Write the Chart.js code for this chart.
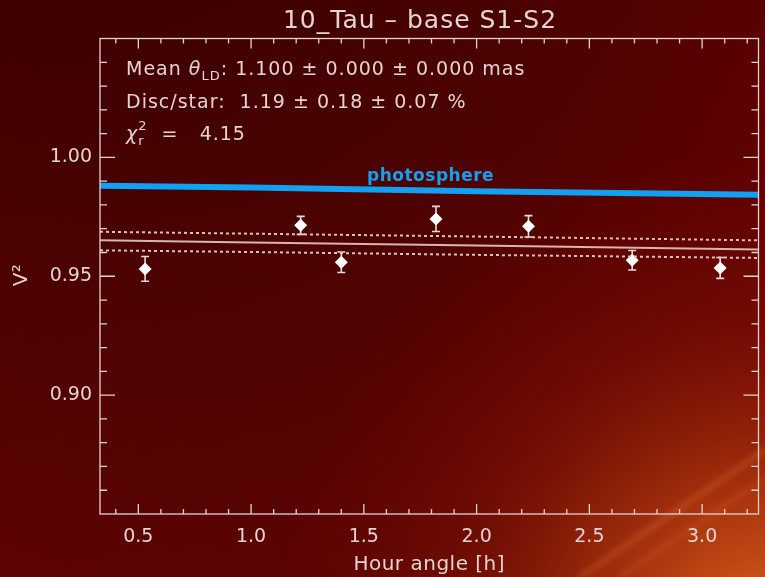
<!DOCTYPE html>
<html>
<head>
<meta charset="utf-8">
<script src="https://cdn.jsdelivr.net/npm/chart.js@4/dist/chart.umd.min.js"></script>
<style>
  html, body { margin: 0; padding: 0; background: #4a0000; }
  canvas { display: block; }
</style>
</head>
<body>
<canvas id="vis2Chart" width="765" height="577"></canvas>
<script>
// observed squared visibilities, baseline S1-S2
const hourAngle = [0.53, 1.22, 1.40, 1.82, 2.23, 2.69, 3.08];
const vis2 = [0.9531, 0.9714, 0.9559, 0.9741, 0.9710, 0.9567, 0.9535];
const vis2Err = [0.0052, 0.0038, 0.0043, 0.0053, 0.0045, 0.0041, 0.0044];

// model curves sampled along the hour angle range
const modelHA = [0.33, 1.0, 2.0, 3.25];
const photosphere = [0.9881, 0.9873, 0.9858, 0.9843];
const modelFit = [0.9651, 0.9642, 0.9629, 0.9612];
const modelUpper = [0.9687, 0.9679, 0.9667, 0.9651];
const modelLower = [0.9609, 0.9602, 0.9590, 0.9577];

// axis ticks
const xMajor = [0.5, 1.0, 1.5, 2.0, 2.5, 3.0];
const xTickLabels = ["0.5", "1.0", "1.5", "2.0", "2.5", "3.0"];
const yMajor = [0.90, 0.95, 1.00];
const yTickLabels = ["0.90", "0.95", "1.00"];

const fg = "#e6d2d2";
const blue = "#12a0f2";
const font = "'DejaVu Sans', sans-serif";

function pts(xs, ys) {
    return xs.map((x, i) => ({ x: x, y: ys[i] }));
}

// dark red backdrop with the orange glow in the lower right
const backdrop = {
    id: "backdrop",
    beforeDraw(chart) {
        const ctx = chart.ctx;
        const w = chart.width, h = chart.height;
        ctx.save();
        let g = ctx.createLinearGradient(0, 0, w * 0.3, h);
        g.addColorStop(0, "#3e0000");
        g.addColorStop(1, "#620404");
        ctx.fillStyle = g;
        ctx.fillRect(0, 0, w, h);

        g = ctx.createLinearGradient(0, 0, w, 0);
        g.addColorStop(0, "rgba(0,0,0,0)");
        g.addColorStop(1, "rgba(110,0,0,0.35)");
        ctx.fillStyle = g;
        ctx.fillRect(0, 0, w, h);

        g = ctx.createRadialGradient(770, 650, 0, 770, 650, 500);
        g.addColorStop(0, "rgba(235,115,35,0.95)");
        g.addColorStop(0.3, "rgba(200,75,18,0.7)");
        g.addColorStop(0.65, "rgba(150,30,5,0.3)");
        g.addColorStop(1, "rgba(120,10,0,0)");
        ctx.fillStyle = g;
        ctx.fillRect(0, 0, w, h);

        ctx.filter = "blur(3px)";
        ctx.strokeStyle = "rgba(245,140,70,0.35)";
        ctx.lineWidth = 4;
        ctx.beginPath();
        ctx.moveTo(580, 577);
        ctx.lineTo(765, 450);
        ctx.stroke();
        ctx.strokeStyle = "rgba(245,140,70,0.2)";
        ctx.beginPath();
        ctx.moveTo(620, 577);
        ctx.lineTo(765, 478);
        ctx.stroke();
        ctx.restore();
    }
};

// box frame with inward ticks on all four sides
const frame = {
    id: "frame",
    afterDatasetsDraw(chart) {
        const ctx = chart.ctx;
        const a = chart.chartArea;
        const xs = chart.scales.x, ys = chart.scales.y;
        ctx.save();
        ctx.strokeStyle = fg;
        ctx.lineWidth = 1.3;
        ctx.strokeRect(a.left, a.top, a.right - a.left, a.bottom - a.top);
        ctx.beginPath();
        for (let i = 4; i <= 32; i++) {
            const v = i / 10;
            const px = xs.getPixelForValue(v);
            if (px < a.left + 1 || px > a.right - 1) continue;
            const len = (i % 5 === 0) ? 10 : 5;
            ctx.moveTo(px, a.bottom); ctx.lineTo(px, a.bottom - len);
            ctx.moveTo(px, a.top); ctx.lineTo(px, a.top + len);
        }
        for (let i = 86; i <= 104; i++) {
            const v = i / 100;
            const py = ys.getPixelForValue(v);
            const len = (i % 5 === 0) ? 15 : 7;
            ctx.moveTo(a.left, py); ctx.lineTo(a.left + len, py);
            ctx.moveTo(a.right, py); ctx.lineTo(a.right - len, py);
        }
        ctx.stroke();
        ctx.restore();
    }
};

// vertical error bars with caps
const errorBars = {
    id: "errorBars",
    beforeDatasetsDraw(chart) {
        const ctx = chart.ctx;
        const xs = chart.scales.x, ys = chart.scales.y;
        ctx.save();
        ctx.strokeStyle = "#ecdada";
        ctx.lineWidth = 1.6;
        ctx.beginPath();
        hourAngle.forEach((h, i) => {
            const px = xs.getPixelForValue(h);
            const top = ys.getPixelForValue(vis2[i] + vis2Err[i]);
            const bot = ys.getPixelForValue(vis2[i] - vis2Err[i]);
            ctx.moveTo(px, top); ctx.lineTo(px, bot);
            ctx.moveTo(px - 4, top); ctx.lineTo(px + 4, top);
            ctx.moveTo(px - 4, bot); ctx.lineTo(px + 4, bot);
        });
        ctx.stroke();
        ctx.restore();
    }
};

function drawParts(ctx, x, y, parts) {
    let cx = x;
    parts.forEach(p => {
        ctx.font = (p.italic ? "italic " : "") + p.size + "px " + font;
        ctx.fillText(p.t, cx, y + (p.dy || 0));
        const w = ctx.measureText(p.t).width;
        if (!p.stack) cx += w;
    });
    return cx;
}

// title, fit summary, curve label and axis titles
const labels = {
    id: "labels",
    afterDraw(chart) {
        const ctx = chart.ctx;
        const a = chart.chartArea;
        ctx.save();
        ctx.fillStyle = fg;
        ctx.textBaseline = "alphabetic";

        ctx.letterSpacing = "1px";
        ctx.font = "25px " + font;
        ctx.textAlign = "center";
        ctx.fillText("10_Tau \u2013 base S1-S2", 420, 28);

        ctx.letterSpacing = "0.5px";
        ctx.font = "20px " + font;
        ctx.fillText("Hour angle [h]", (a.left + a.right) / 2, 570);

        ctx.save();
        ctx.translate(27, 275);
        ctx.rotate(-Math.PI / 2);
        ctx.font = "20px " + font;
        ctx.fillText("V\u00b2", 0, 0);
        ctx.restore();

        ctx.textAlign = "left";
        ctx.letterSpacing = "1px";
        drawParts(ctx, 126, 75, [
            { t: "Mean ", size: 19 },
            { t: "\u03b8", size: 19, italic: true },
            { t: "LD", size: 13, dy: 5 },
            { t: ": 1.100 \u00b1 0.000 \u00b1 0.000 mas", size: 19 }
        ]);
        drawParts(ctx, 126, 108, [
            { t: "Disc/star:  1.19 \u00b1 0.18 \u00b1 0.07 %", size: 19 }
        ]);
        drawParts(ctx, 126, 140, [
            { t: "\u03c7", size: 19, italic: true },
            { t: "r", size: 13, dy: 5, stack: true },
            { t: "2", size: 13, dy: -10 },
            { t: "  =   4.15", size: 19 }
        ]);

        ctx.letterSpacing = "0.5px";
        ctx.fillStyle = blue;
        ctx.font = "bold 17px " + font;
        ctx.fillText("photosphere", 367, 181);
        ctx.restore();
    }
};

new Chart(document.getElementById("vis2Chart"), {
    type: "scatter",
    data: {
        datasets: [
            {
                type: "line",
                data: pts(modelHA, photosphere),
                borderColor: blue,
                borderWidth: 6,
                pointRadius: 0
            },
            {
                type: "line",
                data: pts(modelHA, modelUpper),
                borderColor: "#dcc0c0",
                borderWidth: 2,
                borderDash: [3, 3],
                pointRadius: 0
            },
            {
                type: "line",
                data: pts(modelHA, modelFit),
                borderColor: "#d8b4b4",
                borderWidth: 2,
                pointRadius: 0
            },
            {
                type: "line",
                data: pts(modelHA, modelLower),
                borderColor: "#dcc0c0",
                borderWidth: 2,
                borderDash: [3, 3],
                pointRadius: 0
            },
            {
                data: pts(hourAngle, vis2),
                pointStyle: "rectRot",
                pointRadius: 6.5,
                backgroundColor: "#ffffff",
                borderColor: "#ffffff",
                borderWidth: 0
            }
        ]
    },
    options: {
        responsive: false,
        animation: false,
        events: [],
        layout: { padding: { top: 38.5, right: 2, left: 0, bottom: 0 } },
        plugins: {
            legend: { display: false },
            tooltip: { enabled: false }
        },
        scales: {
            x: {
                type: "linear",
                min: 0.33,
                max: 3.25,
                afterFit: s => { s.height = 63; },
                afterBuildTicks: s => { s.ticks = xMajor.map(v => ({ value: v })); },
                border: { display: false },
                grid: { display: false, drawTicks: false },
                ticks: {
                    color: fg,
                    padding: 12,
                    maxRotation: 0,
                    font: { family: "DejaVu Sans", size: 19 },
                    callback: (v, i) => xTickLabels[i]
                }
            },
            y: {
                type: "linear",
                min: 0.85,
                max: 1.05,
                afterFit: s => { s.width = 100; },
                afterBuildTicks: s => { s.ticks = yMajor.map(v => ({ value: v })); },
                border: { display: false },
                grid: { display: false, drawTicks: false },
                ticks: {
                    color: fg,
                    padding: 8,
                    font: { family: "DejaVu Sans", size: 19 },
                    callback: (v, i) => yTickLabels[i]
                }
            }
        }
    },
    plugins: [backdrop, frame, errorBars, labels]
});
</script>
</body>
</html>
